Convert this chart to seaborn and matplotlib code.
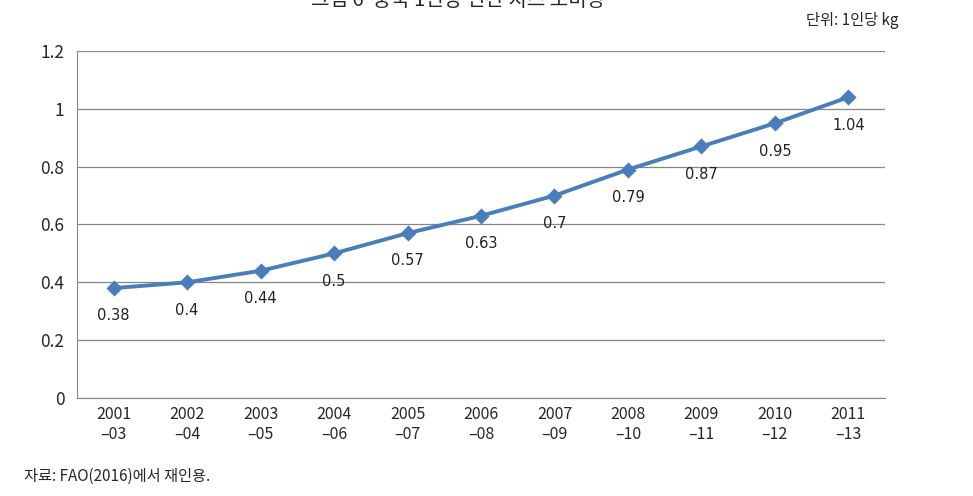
import numpy as np
import pandas as pd
import seaborn as sns
import matplotlib.pyplot as plt
from matplotlib.ticker import FixedLocator

years = ['2001\n–03', '2002\n–04', '2003\n–05', '2004\n–06', '2005\n–07', '2006\n–08',
         '2007\n–09', '2008\n–10', '2009\n–11', '2010\n–12', '2011\n–13']
values = [0.38, 0.4, 0.44, 0.5, 0.57, 0.63, 0.7, 0.79, 0.87, 0.95, 1.04]
labels = ['0.38', '0.4', '0.44', '0.5', '0.57', '0.63', '0.7', '0.79', '0.87', '0.95', '1.04']
yticks = [0, 0.2, 0.4, 0.6, 0.8, 1.0, 1.2]
ytick_labels = ['0', '0.2', '0.4', '0.6', '0.8', '1', '1.2']

sns.set_style('white')
plt.rcParams['font.family'] = ['Noto Sans CJK KR', 'DejaVu Sans']

df = pd.DataFrame({'period': years, 'value': values})

fig = plt.figure(figsize=(9.73, 4.96), dpi=100)
ax = fig.add_axes([0.0791, 0.1976, 0.8305, 0.6996])

sns.pointplot(data=df, x='period', y='value', ax=ax, color='#4a7ebb',
              markers='D', linestyles='-', markersize=6.5, linewidth=2.8)

for i, (v, t) in enumerate(zip(values, labels)):
    ax.annotate(t, (i, v), xytext=(0, -20), textcoords='offset points',
                ha='center', va='center', fontsize=10.5, color='#222222',
                family='DejaVu Sans')

ax.set_xlim(-0.5, 10.5)
ax.set_ylim(0, 1.2)
ax.set_yticks(yticks)
ax.set_yticklabels(ytick_labels, fontsize=12.5)
ax.xaxis.set_minor_locator(FixedLocator(np.arange(-0.5, 11, 1)))
ax.tick_params(axis='x', which='major', length=0, labelsize=11.5, pad=6)
ax.tick_params(axis='x', which='minor', length=5, color='#868686', direction='out')
ax.tick_params(axis='y', length=5, color='#868686', direction='out', pad=4)
ax.yaxis.grid(True, color='#868686', linewidth=0.9)
ax.set_axisbelow(True)
for s in ['top', 'right']:
    ax.spines[s].set_visible(False)
for s in ['left', 'bottom']:
    ax.spines[s].set_color('#868686')
ax.set_xlabel('')
ax.set_ylabel('')

# title is cropped at the top edge in the reference
fig.text(0.471, 1.0, '그림 6  중국 1인당 연간 치즈 소비량', ha='center', va='center', fontsize=14.5)
fig.text(0.923, 0.958, '단위: 1인당 kg', ha='right', va='center', fontsize=11)
fig.text(0.025, 0.04, '자료: FAO(2016)에서 재인용.', ha='left', va='center', fontsize=11)

fig.savefig('out.png', dpi=100)
